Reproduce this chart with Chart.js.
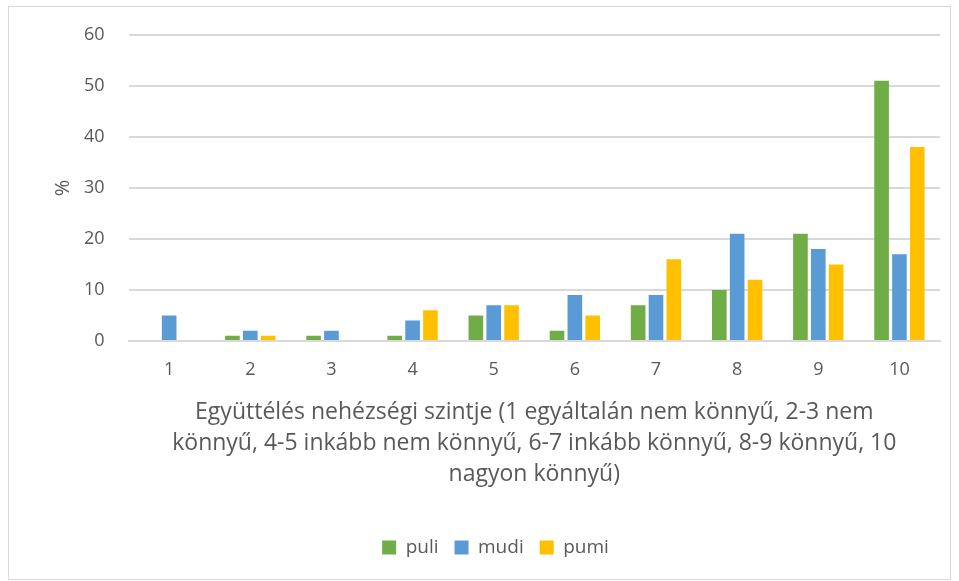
<!DOCTYPE html>
<html>
<head>
<meta charset="utf-8">
<script src="https://cdn.jsdelivr.net/npm/chart.js@4/dist/chart.umd.min.js"></script>
<style>
  body { margin: 0; background: #fff; }
  #wrap { position: absolute; left: 8px; top: 6px; width: 941px; height: 572px; border: 1px solid #d9d9d9; }
  #chart { position: absolute; left: 0; top: 0; }
</style>
</head>
<body>
<div id="wrap"></div>
<canvas id="chart" width="959" height="581"></canvas>
<script>
const categories = ['1', '2', '3', '4', '5', '6', '7', '8', '9', '10'];
const puli = [0, 1, 1, 1, 5, 2, 7, 10, 21, 51];
const mudi = [5, 2, 2, 4, 7, 9, 9, 21, 18, 17];
const pumi = [0, 1, 0, 6, 7, 5, 16, 12, 15, 38];
const xTitle = [
  'Együttélés nehézségi szintje (1 egyáltalán nem könnyű, 2-3 nem',
  'könnyű, 4-5 inkább nem könnyű, 6-7 inkább könnyű, 8-9 könnyű, 10',
  'nagyon könnyű)'
];

const font = "'Open Sans', 'Liberation Sans', sans-serif";
const grey = '#595959';

new Chart(document.getElementById('chart'), {
  type: 'bar',
  data: {
    labels: categories,
    datasets: [
      { label: 'puli', data: puli, backgroundColor: '#70AD47' },
      { label: 'mudi', data: mudi, backgroundColor: '#5B9BD5' },
      { label: 'pumi', data: pumi, backgroundColor: '#FFC000' }
    ]
  },
  options: {
    responsive: false,
    animation: false,
    layout: { padding: { left: 51, right: 19, top: 32, bottom: 14 } },
    datasets: { bar: { categoryPercentage: 0.66, barPercentage: 0.82 } },
    plugins: {
      legend: {
        position: 'bottom',
        labels: { boxWidth: 14, boxHeight: 14, color: grey, font: { family: font, size: 19 }, padding: 16 }
      },
      tooltip: { enabled: false }
    },
    scales: {
      x: {
        grid: { display: false },
        border: { color: '#d9d9d9', width: 2 },
        ticks: { color: grey, font: { family: font, size: 18 }, padding: 10 },
        title: { display: true, text: xTitle, color: grey, font: { family: font, size: 23, lineHeight: 1.34 }, padding: { top: 7, bottom: 32 } }
      },
      y: {
        min: 0, max: 60,
        ticks: { stepSize: 10, color: grey, font: { family: font, size: 18 }, padding: 24 },
        grid: { color: '#d9d9d9', lineWidth: 2, drawTicks: false, tickLength: 0 },
        border: { display: false },
        title: { display: true, text: '%', color: grey, font: { family: font, size: 20 }, padding: { top: 0, bottom: -15 } }
      }
    }
  }
});
</script>
</body>
</html>
